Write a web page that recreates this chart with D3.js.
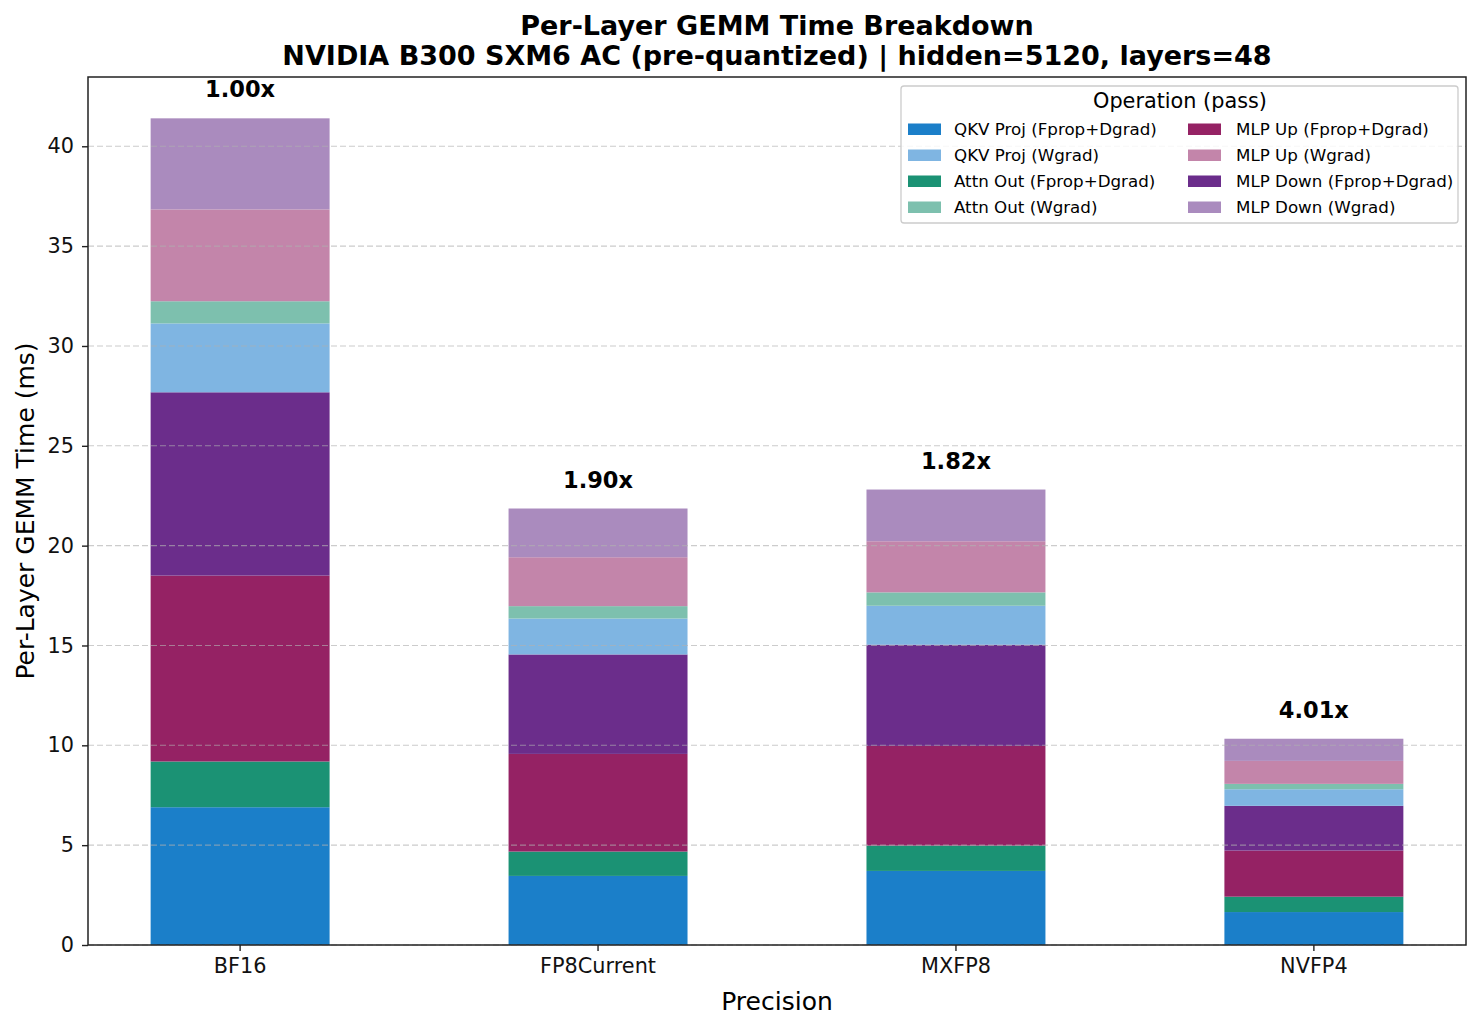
<!DOCTYPE html>
<html>
<head>
<meta charset="utf-8">
<script src="https://cdn.jsdelivr.net/npm/d3@7"></script>
<style>
  html, body { margin: 0; padding: 0; background: #fff; }
  svg { display: block; font-family: "DejaVu Sans", sans-serif; }
</style>
</head>
<body>
<svg id="chart" width="1482" height="1030"></svg>
<script>
const categories = ["BF16", "FP8Current", "MXFP8", "NVFP4"];
const seriesNames = [
  "QKV Proj (Fprop+Dgrad)", "Attn Out (Fprop+Dgrad)", "MLP Up (Fprop+Dgrad)", "MLP Down (Fprop+Dgrad)",
  "QKV Proj (Wgrad)", "Attn Out (Wgrad)", "MLP Up (Wgrad)", "MLP Down (Wgrad)"
];
const qkvFprop   = [6.90, 3.46, 3.71, 1.65];
const attnFprop  = [2.29, 1.22, 1.27, 0.77];
const mlpUpFprop = [9.31, 4.89, 4.99, 2.31];
const mlpDnFprop = [9.18, 4.98, 5.07, 2.24];
const qkvWgrad   = [3.45, 1.80, 1.95, 0.83];
const attnWgrad  = [1.11, 0.62, 0.67, 0.27];
const mlpUpWgrad = [4.60, 2.45, 2.56, 1.15];
const mlpDnWgrad = [4.56, 2.44, 2.59, 1.11];
const speedupLabels = ["1.00x", "1.90x", "1.82x", "4.01x"];
const yTicks = [0, 5, 10, 15, 20, 25, 30, 35, 40];
const legendCol1 = ["QKV Proj (Fprop+Dgrad)", "QKV Proj (Wgrad)", "Attn Out (Fprop+Dgrad)", "Attn Out (Wgrad)"];
const legendCol2 = ["MLP Up (Fprop+Dgrad)", "MLP Up (Wgrad)", "MLP Down (Fprop+Dgrad)", "MLP Down (Wgrad)"];

const colors = {
  "QKV Proj (Fprop+Dgrad)": "#1b7fc9",
  "QKV Proj (Wgrad)": "#7fb5e2",
  "Attn Out (Fprop+Dgrad)": "#1b9274",
  "Attn Out (Wgrad)": "#7dc0ae",
  "MLP Up (Fprop+Dgrad)": "#952264",
  "MLP Up (Wgrad)": "#c385aa",
  "MLP Down (Fprop+Dgrad)": "#6b2d8b",
  "MLP Down (Wgrad)": "#aa8bbe"
};

const seriesValues = [qkvFprop, attnFprop, mlpUpFprop, mlpDnFprop, qkvWgrad, attnWgrad, mlpUpWgrad, mlpDnWgrad];
const rows = categories.map((c, i) => {
  const r = { cat: c };
  seriesNames.forEach((s, j) => r[s] = seriesValues[j][i]);
  return r;
});
const stacked = d3.stack().keys(seriesNames)(rows);
const totals = rows.map(r => d3.sum(seriesNames, s => r[s]));

const svg = d3.select("#chart");
const L = 88, R = 1466, T = 77, B = 945;

const x = d3.scaleBand().domain(categories).range([L, R]).paddingInner(0.5).paddingOuter(0.175);
const y = d3.scaleLinear().domain([0, d3.max(totals) * 1.05]).range([B, T]);

// bars
const g = svg.append("g");
stacked.forEach(layer => {
  g.selectAll(null).data(layer).enter().append("rect")
    .attr("x", d => x(d.data.cat))
    .attr("width", x.bandwidth())
    .attr("y", d => y(d[1]))
    .attr("height", d => y(d[0]) - y(d[1]))
    .attr("fill", colors[layer.key]);
});

// grid (on top, faint)
svg.append("g").selectAll("line").data(yTicks).enter().append("line")
  .attr("x1", L).attr("x2", R)
  .attr("y1", d => y(d)).attr("y2", d => y(d))
  .attr("stroke", "#b0b0b0").attr("stroke-opacity", 0.65)
  .attr("stroke-width", 1.1).attr("stroke-dasharray", "6,3");

// speedup labels
svg.append("g").selectAll("text").data(categories).enter().append("text")
  .attr("x", d => x(d) + x.bandwidth() / 2)
  .attr("y", (d, i) => y(totals[i]) - 21)
  .attr("text-anchor", "middle")
  .attr("font-size", 22.5).attr("font-weight", "bold")
  .text((d, i) => speedupLabels[i]);

// axes
const yAxis = d3.axisLeft(y).tickValues(yTicks).tickSize(6).tickPadding(8);
const ya = svg.append("g").attr("transform", `translate(${L},0)`).call(yAxis);
const xAxis = d3.axisBottom(x).tickSize(6).tickPadding(7);
const xa = svg.append("g").attr("transform", `translate(0,${B})`).call(xAxis);
[ya, xa].forEach(a => {
  a.select(".domain").remove();
  a.selectAll(".tick line").attr("stroke", "#222").attr("stroke-width", 1.4);
  a.selectAll(".tick text").attr("font-size", 20.8).attr("fill", "#111").attr("font-family", "DejaVu Sans, sans-serif");
});

// frame
svg.append("rect").attr("x", L).attr("y", T).attr("width", R - L).attr("height", B - T)
  .attr("fill", "none").attr("stroke", "#222").attr("stroke-width", 1.5);

// axis labels
svg.append("text").attr("x", (L + R) / 2).attr("y", 1010).attr("text-anchor", "middle")
  .attr("font-size", 25).text("Precision");
svg.append("text").attr("transform", `translate(34,${(T + B) / 2}) rotate(-90)`)
  .attr("text-anchor", "middle").attr("font-size", 25).text("Per-Layer GEMM Time (ms)");

// title
svg.append("text").attr("x", (L + R) / 2).attr("y", 35).attr("text-anchor", "middle")
  .attr("font-size", 27).attr("font-weight", "bold").text("Per-Layer GEMM Time Breakdown");
svg.append("text").attr("x", (L + R) / 2).attr("y", 65).attr("text-anchor", "middle")
  .attr("font-size", 27).attr("font-weight", "bold")
  .text("NVIDIA B300 SXM6 AC (pre-quantized) | hidden=5120, layers=48");

// legend
const lg = svg.append("g");
lg.append("rect").attr("x", 901).attr("y", 86).attr("width", 557).attr("height", 137)
  .attr("rx", 3).attr("fill", "#fff").attr("fill-opacity", 0.85)
  .attr("stroke", "#ccc").attr("stroke-width", 1.3);
lg.append("text").attr("x", 1180).attr("y", 108).attr("text-anchor", "middle")
  .attr("font-size", 20.8).text("Operation (pass)");
[[legendCol1, 908, 954], [legendCol2, 1188, 1236]].forEach(([items, mx, tx]) => {
  items.forEach((name, i) => {
    const cy = 129 + i * 26;
    lg.append("rect").attr("x", mx).attr("y", cy - 5.5).attr("width", 33).attr("height", 11.5)
      .attr("fill", colors[name]);
    lg.append("text").attr("x", tx).attr("y", cy + 6).attr("font-size", 16.7).text(name);
  });
});
</script>
</body>
</html>
